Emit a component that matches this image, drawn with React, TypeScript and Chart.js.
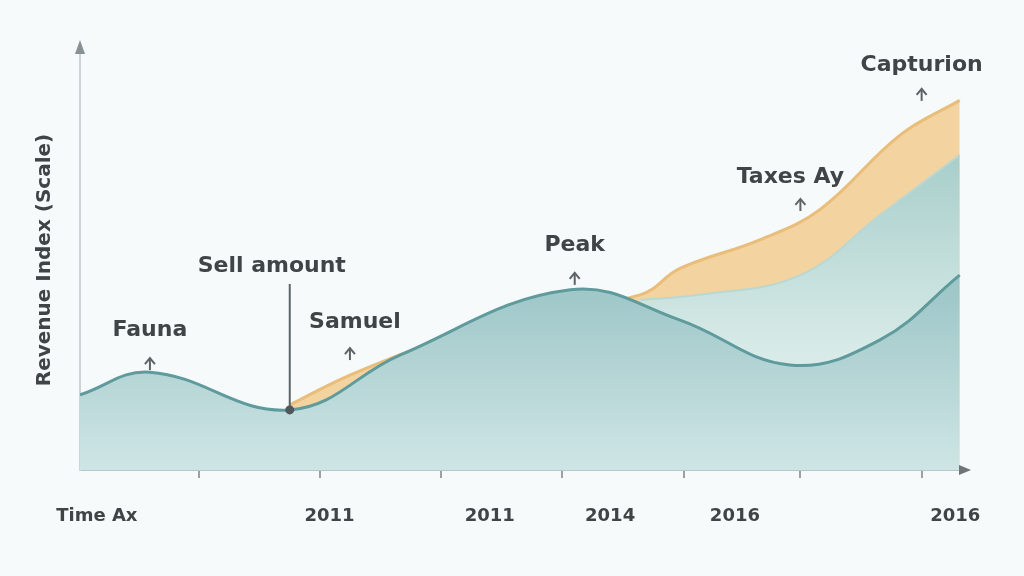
import { Chart, registerables, ChartConfiguration, Plugin } from "chart.js";
import React, { useEffect, useRef } from "react";

Chart.register(...registerables);

// base (dark teal) series
const baseX = [0, 7.9, 23.7, 36.2, 55.4, 67.8, 80.2, 90.4, 99.4];
const baseY = [17.9, 23.3, 14.3, 27.4, 42.9, 35.7, 25.0, 31.0, 46.4];

// middle (light teal) series
const midX = [63.3, 70, 81.4, 90.4, 99.4];
const midY = [40.5, 41.7, 46.4, 60.7, 75.0];

// top (orange) series
const topX = [23.7, 30.5, 40.7, 50, 63.3, 67.8, 76.8, 83.6, 92.7, 99.4];
const topY = [15.5, 22.6, 31.0, 37.0, 41.7, 48.0, 54.8, 62.0, 79.8, 88.0];

// x axis tick marks and labels
const tickMarks = [13.4, 27.1, 40.8, 54.5, 68.2, 81.4, 95.1];
const tickLabelPos = [1.9, 28.2, 46.3, 59.9, 74.0, 98.9];
const tickLabels = ["Time Ax", "2011", "2011", "2014", "2016", "2016"];

// annotations
const noteLabels = ["Fauna", "Sell amount", "Samuel", "Peak", "Taxes Ay", "Capturion"];
const noteX = [7.9, 23.7, 30.5, 55.9, 81.4, 95.1];
const noteY = [23.3, 14.3, 25.7, 43.6, 61.2, 87.4];

const yTitle = "Revenue Index (Scale)";

// label offsets from their point, in pixels
const noteOffsets = [
  { dx: 0, dy: -42, line: false },
  { dx: -18, dy: -144, line: true },
  { dx: 5, dy: -40, line: false },
  { dx: 0, dy: -42, line: false },
  { dx: -10, dy: -36, line: false },
  { dx: 0, dy: -38, line: false },
];

const TEXT = "#3f4446";
const FONT = "DejaVu Sans";

const points = (xs: number[], ys: number[]) => xs.map((x, i) => ({ x, y: ys[i] }));

const gradient = (stops: [number, string][]) => (ctx: any) => {
  const area = ctx.chart.chartArea;
  if (!area) return stops[0][1];
  const g = ctx.chart.ctx.createLinearGradient(0, area.top, 0, area.bottom);
  stops.forEach(([o, c]) => g.addColorStop(o, c));
  return g;
};

const decorations: Plugin = {
  id: "decorations",
  beforeDraw(chart) {
    const c = chart.ctx;
    c.save();
    c.fillStyle = "#f6fafa";
    c.fillRect(0, 0, chart.width, chart.height);
    c.restore();
  },
  afterDraw(chart) {
    const c = chart.ctx;
    const { left, right, top, bottom } = chart.chartArea;
    const xs = chart.scales.x;
    const ys = chart.scales.y;
    c.save();
    // y axis arrow
    c.fillStyle = "#8a9194";
    c.beginPath();
    c.moveTo(left, top - 10);
    c.lineTo(left - 5, top + 4);
    c.lineTo(left + 5, top + 4);
    c.closePath();
    c.fill();
    // x axis arrow
    c.fillStyle = "#6e7477";
    c.beginPath();
    c.moveTo(right + 6, bottom);
    c.lineTo(right - 6, bottom - 5);
    c.lineTo(right - 6, bottom + 5);
    c.closePath();
    c.fill();

    // annotations
    c.font = `bold 22px "${FONT}"`;
    c.textAlign = "center";
    c.textBaseline = "middle";
    noteLabels.forEach((label, i) => {
      const px = xs.getPixelForValue(noteX[i]);
      const py = ys.getPixelForValue(noteY[i]);
      const off = noteOffsets[i];
      c.fillStyle = TEXT;
      c.fillText(label, px + off.dx, py + off.dy);
      c.strokeStyle = "#5d6366";
      c.fillStyle = "#50575a";
      if (off.line) {
        c.lineWidth = 2;
        c.beginPath();
        c.moveTo(px, py + off.dy + 18);
        c.lineTo(px, py);
        c.stroke();
        c.beginPath();
        c.arc(px, py, 4.5, 0, Math.PI * 2);
        c.fill();
      } else {
        c.lineWidth = 2;
        c.beginPath();
        c.moveTo(px, py - 2);
        c.lineTo(px, py - 13);
        c.stroke();
        c.beginPath();
        c.moveTo(px - 5, py - 8);
        c.lineTo(px, py - 14);
        c.lineTo(px + 5, py - 8);
        c.stroke();
      }
    });
    c.restore();
  },
};

function configOf(): ChartConfiguration {
  return {
    type: "line",
    data: {
      datasets: [
        {
          label: "Base",
          data: points(baseX, baseY),
          borderColor: "#5f9a9c",
          borderWidth: 3,
          backgroundColor: gradient([[0, "#6ea6a8"], [0.6, "#a2c9ca"], [1, "#cfe5e5"]]),
          fill: "origin",
          tension: 0.4,
          pointRadius: 0,
          order: 1,
        },
        {
          label: "Middle",
          data: points(midX, midY),
          borderColor: "#b9d8d3",
          borderWidth: 2,
          backgroundColor: gradient([[0.2, "#a3cbc7"], [0.7, "#d6eae7"], [1, "#e6f2f0"]]),
          fill: "origin",
          tension: 0.4,
          pointRadius: 0,
          order: 2,
        },
        {
          label: "Top",
          data: points(topX, topY),
          borderColor: "#e9bd7a",
          borderWidth: 3,
          backgroundColor: "#f3d39f",
          fill: "origin",
          tension: 0.4,
          pointRadius: 0,
          order: 3,
        },
      ],
    },
    options: {
      responsive: false,
      animation: false,
      layout: { padding: { left: 20, right: 59, top: 50, bottom: 36 } },
      plugins: {
        legend: { display: false },
        tooltip: { enabled: false },
      },
      scales: {
        x: {
          type: "linear",
          min: 0,
          max: 100,
          position: "bottom",
          afterBuildTicks: (s) => { s.ticks = tickMarks.map(value => ({ value })); },
          afterFit: (s) => { s.height = 8; },
          grid: { drawOnChartArea: false, tickLength: 8, color: "#9aa1a4", lineWidth: 2 },
          border: { display: true, color: "#b9c6c8", width: 2 },
          ticks: { display: false },
        },
        x2: {
          type: "linear",
          min: 0,
          max: 100,
          position: "bottom",
          afterBuildTicks: (s) => { s.ticks = tickLabelPos.map(value => ({ value })); },
          afterFit: (s) => { s.height = 62; },
          grid: { display: false, drawTicks: false },
          border: { display: false },
          ticks: {
            autoSkip: false,
            maxRotation: 0,
            padding: 28,
            color: TEXT,
            font: { family: FONT, size: 18, weight: "bold" },
            callback: (v, i) => tickLabels[i],
          },
        },
        y: {
          min: 0,
          max: 100,
          afterFit: (s) => { s.width = 60; },
          grid: { display: false },
          border: { display: true, color: "#cdd3d6", width: 2 },
          ticks: { display: false },
          title: {
            display: true,
            text: yTitle,
            color: TEXT,
            font: { family: FONT, size: 20, weight: "bold" },
            padding: { top: 13, bottom: 0 },
          },
        },
      },
    },
    plugins: [decorations],
  };
}

const AreaChart = () => {
  const canvas = useRef<HTMLCanvasElement>(null);
  useEffect(() => {
    const ctx = canvas.current?.getContext("2d");
    const chart = ctx ? new Chart(ctx, configOf()) : null;
    return () => chart?.destroy();
  });
  return <canvas width="1024" height="576" ref={canvas} style={{ display: "block" }} />;
};

export default function App() {
  return (
    <div style={{ position: "fixed", left: 0, top: 0, width: 1024, height: 576 }}>
      <AreaChart />
    </div>
  );
}
